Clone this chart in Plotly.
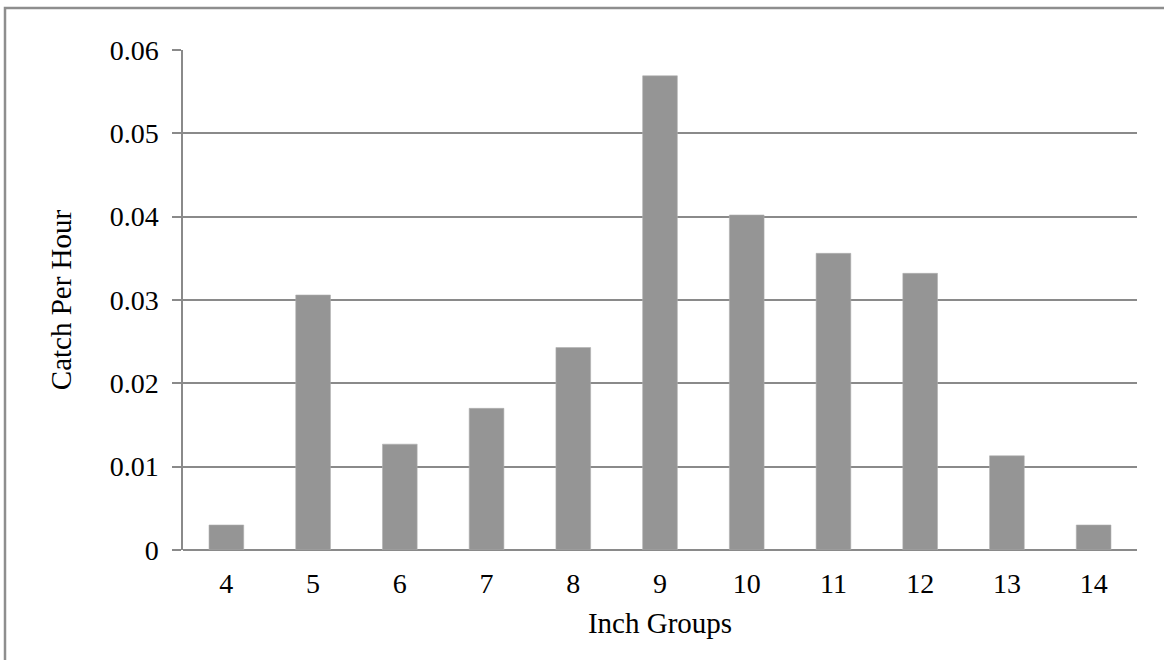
import plotly.graph_objects as go

inch_groups = ["4", "5", "6", "7", "8", "9", "10", "11", "12", "13", "14"]
catch_per_hour = [0.003, 0.0306, 0.0127, 0.0170, 0.0243, 0.0569, 0.0402, 0.0356, 0.0332, 0.0113, 0.003]
y_ticks = [0, 0.01, 0.02, 0.03, 0.04, 0.05, 0.06]
y_tick_text = ["0", "0.01", "0.02", "0.03", "0.04", "0.05", "0.06"]

W, H = 1164, 660
ML, MR, MT, MB = 183, 27, 50, 110
pw, ph = W - ML - MR, H - MT - MB

FONT = "Liberation Serif, Times New Roman, serif"
GRID = "#8a8a8a"

fig = go.Figure(go.Bar(
    x=inch_groups, y=catch_per_hour,
    marker=dict(color="#959595", line=dict(color="#b0b0b0", width=0.6)),
))

fig.update_layout(
    width=W, height=H,
    margin=dict(l=ML, r=MR, t=MT, b=MB, autoexpand=False),
    paper_bgcolor="white", plot_bgcolor="white",
    bargap=0.6,
    showlegend=False,
    font=dict(family=FONT, size=28, color="black"),
)
fig.update_xaxes(
    type="category",
    showgrid=False, showline=False, ticks="",
    tickfont=dict(family=FONT, size=28),
    ticklabelstandoff=14,
    title=dict(text="Inch Groups", font=dict(family=FONT, size=29), standoff=14),
    automargin=False,
)
fig.update_yaxes(
    range=[0, 0.06], tickvals=y_ticks, ticktext=y_tick_text,
    showgrid=True, gridcolor=GRID, gridwidth=1.5,
    zeroline=True, zerolinecolor=GRID, zerolinewidth=1.5,
    showline=True, linecolor=GRID, linewidth=1.5,
    ticks="outside", ticklen=9, tickcolor=GRID, tickwidth=1.5,
    tickfont=dict(family=FONT, size=28),
    ticklabelstandoff=8,
    title=dict(text="Catch Per Hour", font=dict(family=FONT, size=29), standoff=30),
    automargin=False,
)

# outer chart border (left and top visible)
x0 = (5 - ML) / pw
y0 = (MT + ph - 8) / ph
fig.add_shape(type="path", xref="paper", yref="paper",
              path=f"M {x0} -0.3 L {x0} {y0} L 1.2 {y0}",
              line=dict(color="#8e8e8e", width=2.5))

fig.write_html("out.html", config={"displayModeBar": False},
               post_script="document.body.style.margin='0';")
